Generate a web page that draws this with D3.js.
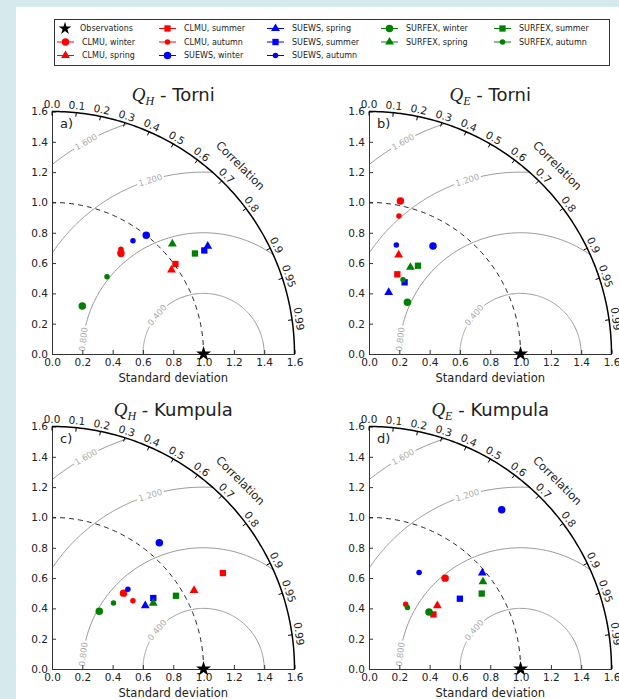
<!DOCTYPE html>
<html>
<head>
<meta charset="utf-8">
<script src="https://cdn.jsdelivr.net/npm/d3@7"></script>
<style>
  body { margin: 0; background: #d6eaee; }
  svg { display: block; font-family: "DejaVu Sans", sans-serif; }
</style>
</head>
<body>
<script>
// ---- data (normalised std and correlation, order: model x season) ----
var models = ["CLMU", "SUEWS", "SURFEX"];
var seasons = ["winter", "spring", "summer", "autumn"];
var modelColors = ["#ff0000", "#0000ff", "#008000"];

var stdTicks = [0, 0.2, 0.4, 0.6, 0.8, 1.0, 1.2, 1.4, 1.6];
var corrTicks = [0, 0.1, 0.2, 0.3, 0.4, 0.5, 0.6, 0.7, 0.8, 0.9, 0.95, 0.99];
var rmsLevels = [0.4, 0.8, 1.2, 1.6];
var rmsLabelAngles = [140, 173, 107, 119];   // where clabel put them (deg, from obs point)

var panelVars = ["H", "E", "H", "E"];
var panelSites = ["Torni", "Torni", "Kumpula", "Kumpula"];
var panelLetters = ["a)", "b)", "c)", "d)"];

var stdA  = [0.805, 0.964, 1.008, 0.827, 1.000, 1.250, 1.215, 0.918, 0.375, 1.076, 1.153, 0.626];
var corrA = [0.565, 0.818, 0.808, 0.550, 0.622, 0.822, 0.827, 0.582, 0.533, 0.738, 0.818, 0.580];
var stdB  = [1.031, 0.682, 0.558, 0.932, 0.828, 0.427, 0.528, 0.742, 0.425, 0.634, 0.666, 0.539];
var corrB = [0.201, 0.287, 0.335, 0.212, 0.510, 0.304, 0.445, 0.243, 0.596, 0.431, 0.485, 0.417];
var stdC  = [0.688, 1.071, 1.293, 0.698, 1.093, 0.744, 0.816, 0.727, 0.492, 0.797, 0.950, 0.595];
var corrC = [0.686, 0.875, 0.872, 0.765, 0.648, 0.827, 0.819, 0.689, 0.634, 0.838, 0.861, 0.682];
var stdD  = [0.782, 0.615, 0.557, 0.491, 1.368, 0.980, 0.758, 0.717, 0.546, 0.947, 0.895, 0.478];
var corrD = [0.642, 0.733, 0.763, 0.493, 0.640, 0.763, 0.791, 0.461, 0.725, 0.794, 0.831, 0.530];

var panelStd = [stdA, stdB, stdC, stdD];
var panelCorr = [corrA, corrB, corrC, corrD];
var refStd = 1.0;

// ---- layout ----
var W = 619, H = 699;
var R = 242.5;
var origins = [[52, 354], [369, 354], [52, 669], [369, 669]];

var svg = d3.select("body").append("svg")
    .attr("width", W)
    .attr("height", H)

svg.append("rect")
    .attr("x", 16).attr("y", 7)
    .attr("width", W - 16).attr("height", H - 7)
    .attr("fill", "#fff")

var rScale = d3.scaleLinear().domain([0, 1.6]).range([0, R]);

var symbolFor = {
    winter: d3.symbol(d3.symbolCircle).size(44),
    spring: d3.symbol(d3.symbolTriangle).size(34),
    summer: d3.symbol(d3.symbolSquare).size(40),
    autumn: d3.symbol(d3.symbolCircle).size(24)
};

svg.append("defs").append("clipPath")
    .attr("id", "quarter")
    .append("path")
        .attr("d", "M0,0L" + R + ",0A" + R + "," + R + " 0 0 0 0," + (-R) + "Z")

function arcPoints(cx, rad, a0, a1) {
    var n = 120, pts = [];
    for (var i = 0; i <= n; i++) {
        var a = (a0 + (a1 - a0) * i / n) * Math.PI / 180;
        pts.push([cx + rad * Math.cos(a), -rad * Math.sin(a)]);
    }
    return pts;
}

function drawPanel(k) {
    var o = origins[k];
    var g = svg.append("g").attr("transform", "translate(" + o[0] + "," + o[1] + ")");
    var sx = rScale;
    var sy = function(v) { return -rScale(v); };
    var line = d3.line();

    // rms contours
    var cont = g.append("g").attr("clip-path", "url(#quarter)");
    rmsLevels.forEach(function(L, i) {
        var rad = rScale(L);
        var phi = rmsLabelAngles[i];
        var gap = (14 / rad) * 180 / Math.PI;
        [[0, phi - gap], [phi + gap, 180]].forEach(function(seg) {
            cont.append("path")
                .attr("d", line(arcPoints(sx(refStd), rad, seg[0], seg[1])))
                .attr("fill", "none")
                .attr("stroke", "#999")
                .attr("stroke-width", 1)
        });
        var p = phi * Math.PI / 180;
        g.append("text")
            .attr("transform", "translate(" + (sx(refStd) + rad * Math.cos(p)) + "," + (-rad * Math.sin(p)) + ") rotate(" + (90 - phi) + ")")
            .attr("text-anchor", "middle")
            .attr("dy", "0.35em")
            .attr("font-size", 8.5)
            .attr("fill", "#aaa")
            .text(d3.format(".3f")(L))
    });

    // reference std (dashed)
    g.append("path")
        .attr("d", line(arcPoints(0, rScale(refStd), 0, 90)))
        .attr("fill", "none")
        .attr("stroke", "#222")
        .attr("stroke-width", 1)
        .attr("stroke-dasharray", "5,4")

    // std axes
    var yAxis = d3.axisLeft(d3.scaleLinear().domain([0, 1.6]).range([0, -R]))
        .tickValues(stdTicks).tickFormat(d3.format(".1f"))
        .tickSizeInner(-4).tickSizeOuter(0).tickPadding(4);
    var xAxis = d3.axisBottom(rScale)
        .tickValues(stdTicks).tickFormat(d3.format(".1f"))
        .tickSizeInner(-4).tickSizeOuter(0).tickPadding(5);
    [g.append("g").call(yAxis), g.append("g").call(xAxis)].forEach(function(ax) {
        ax.attr("font-family", "DejaVu Sans").attr("font-size", 10.5);
        ax.selectAll("text").attr("fill", "#222");
        ax.selectAll("line").attr("stroke", "#333");
        ax.select(".domain").attr("stroke", "#333");
    });

    // outer correlation arc
    g.append("path")
        .attr("d", line(arcPoints(0, R, 0, 90)))
        .attr("fill", "none")
        .attr("stroke", "#000")
        .attr("stroke-width", 1.5)

    corrTicks.forEach(function(c) {
        var t = Math.acos(c);
        g.append("line")
            .attr("x1", R * Math.cos(t)).attr("y1", -R * Math.sin(t))
            .attr("x2", (R - 4) * Math.cos(t)).attr("y2", -(R - 4) * Math.sin(t))
            .attr("stroke", "#000")
        g.append("text")
            .attr("transform", "translate(" + ((R + 7) * Math.cos(t)) + "," + (-(R + 7) * Math.sin(t)) + ") rotate(" + (90 - t * 180 / Math.PI) + ")")
            .attr("text-anchor", "middle")
            .attr("dy", "0.35em")
            .attr("font-size", 10.5)
            .attr("fill", "#222")
            .text(String(c === 0 ? "0.0" : c))
    });

    var ca = 45 * Math.PI / 180;
    g.append("text")
        .attr("transform", "translate(" + ((R + 24) * Math.cos(ca)) + "," + (-(R + 24) * Math.sin(ca)) + ") rotate(45)")
        .attr("text-anchor", "middle")
        .attr("dy", "0.35em")
        .attr("font-size", 11.5)
        .attr("fill", "#222")
        .text("Correlation")

    // observation
    g.append("path")
        .attr("d", d3.symbol(d3.symbolStar).size(70)())
        .attr("transform", "translate(" + sx(refStd) + ",0)")
        .attr("fill", "#000")

    // model points
    var std = panelStd[k], corr = panelCorr[k];
    models.forEach(function(m, mi) {
        seasons.forEach(function(s, si) {
            var i = mi * seasons.length + si;
            var x = std[i] * corr[i];
            var y = std[i] * Math.sqrt(1 - corr[i] * corr[i]);
            g.append("path")
                .attr("d", symbolFor[s]())
                .attr("transform", "translate(" + sx(x) + "," + sy(y) + ")")
                .attr("fill", modelColors[mi])
        });
    });

    // titles
    var title = g.append("text")
        .attr("x", R / 2)
        .attr("y", -R - 11)
        .attr("text-anchor", "middle")
        .attr("font-size", 18)
        .attr("fill", "#222")
    title.append("tspan")
        .attr("font-family", "Liberation Serif")
        .attr("font-style", "italic")
        .attr("font-size", 19)
        .text("Q")
    title.append("tspan")
        .attr("font-family", "Liberation Serif")
        .attr("font-style", "italic")
        .attr("font-size", 12)
        .attr("dy", 4)
        .text(panelVars[k])
    title.append("tspan")
        .attr("dy", -4)
        .text(" - " + panelSites[k])

    g.append("text")
        .attr("x", 8)
        .attr("y", -R + 16)
        .attr("font-size", 13)
        .attr("fill", "#222")
        .text(panelLetters[k])

    g.append("text")
        .attr("x", R / 2)
        .attr("y", 28)
        .attr("text-anchor", "middle")
        .attr("font-size", 11.5)
        .attr("fill", "#222")
        .text("Standard deviation")
}

[0, 1, 2, 3].forEach(drawPanel);

// ---- legend ----
var legendItems = [{label: "Observations", color: "#000", obs: true}];
models.forEach(function(m, mi) {
    seasons.forEach(function(s) {
        legendItems.push({label: m + ", " + s, color: modelColors[mi], season: s});
    });
});
// matplotlib fills 13 entries into 5 columns as 3,3,3,2,2
var colSizes = [3, 3, 3, 2, 2];
var colX = [57, 159, 267, 381, 494];
var rowY = [28.5, 42, 55.5];
var slots = [];
colSizes.forEach(function(n, c) {
    for (var r = 0; r < n; r++) slots.push([colX[c], rowY[r]]);
});

var legend = svg.append("g").classed("legend", true)
legend.append("rect")
    .attr("x", 54.5).attr("y", 19.5)
    .attr("width", 555).attr("height", 46)
    .attr("fill", "#fff")
    .attr("stroke", "#333")
    .attr("stroke-width", 1)

legendItems.forEach(function(d, i) {
    var pos = slots[i];
    var item = legend.append("g").attr("transform", "translate(" + pos[0] + "," + pos[1] + ")");
    if (d.obs) {
        item.append("path")
            .attr("d", d3.symbol(d3.symbolStar).size(50)())
            .attr("transform", "translate(8,0)")
            .attr("fill", "#000")
    } else {
        item.append("line")
            .attr("x1", 0).attr("x2", 17)
            .attr("stroke", d.color)
        item.append("path")
            .attr("d", symbolFor[d.season]())
            .attr("transform", "translate(8.5,0)")
            .attr("fill", d.color)
    }
    item.append("text")
        .attr("x", d.obs ? 23 : 25)
        .attr("dy", "0.35em")
        .attr("font-size", 8)
        .attr("fill", "#222")
        .text(d.label)
});
</script>
</body>
</html>
